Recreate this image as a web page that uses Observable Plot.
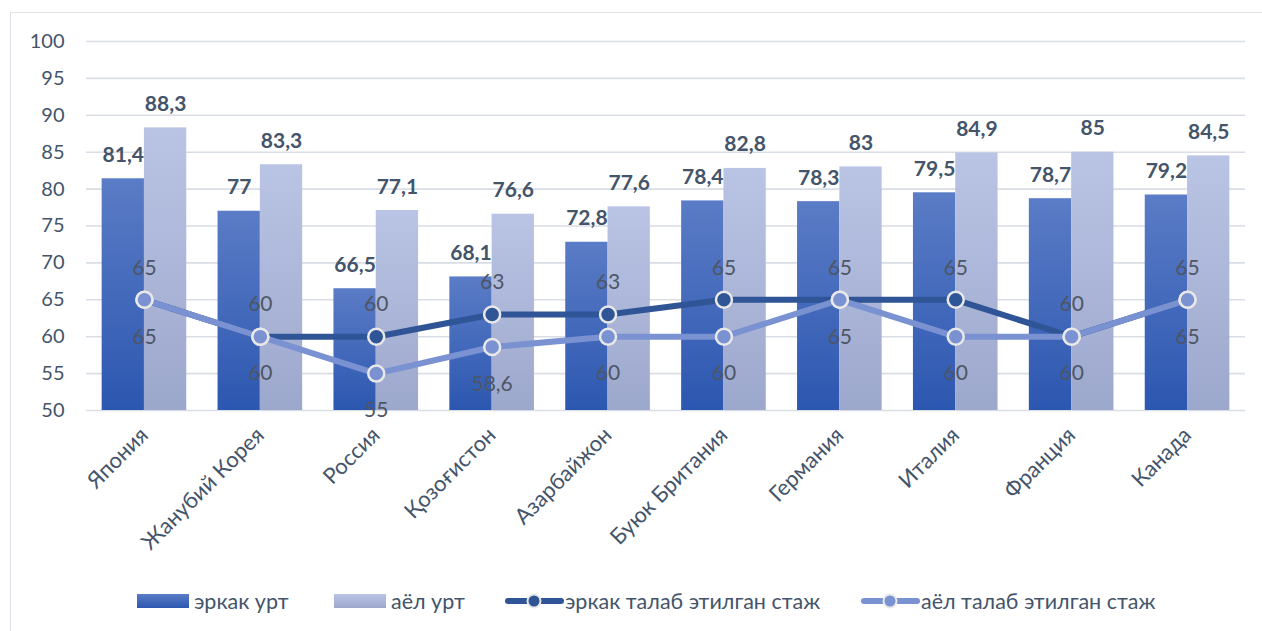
<!DOCTYPE html>
<html>
<head>
<meta charset="utf-8">
<script src="https://cdn.jsdelivr.net/npm/d3@7"></script>
<script src="https://cdn.jsdelivr.net/npm/@observablehq/plot@0.6"></script>
<style>
  html, body { margin: 0; padding: 0; background: #fff; width: 1262px; height: 631px; overflow: hidden; }
  #wrap { position: relative; width: 1262px; height: 631px; font-family: Lato, sans-serif; }
  #frame { position: absolute; left: 10px; top: 12px; width: 1270px; height: 640px; border: 1.5px solid #dde1e8; box-sizing: border-box; }
  #chart { position: absolute; left: 0; top: 0; }
  .leg { position: absolute; top: 589px; height: 24px; display: flex; align-items: center; font-size: 21.5px; color: #44546a; white-space: nowrap; }
  .sw { width: 52px; height: 14px; margin-right: 5px; }
</style>
</head>
<body>
<div id="wrap">
  <div id="frame"></div>
  <div id="chart"></div>
  <div id="legend"></div>
</div>
<script>
const countries = ["Япония", "Жанубий Корея", "Россия", "Қозоғистон", "Азарбайжон", "Буюк Британия", "Германия", "Италия", "Франция", "Канада"];
const maleLife = [81.4, 77, 66.5, 68.1, 72.8, 78.4, 78.3, 79.5, 78.7, 79.2];
const femaleLife = [88.3, 83.3, 77.1, 76.6, 77.6, 82.8, 83, 84.9, 85, 84.5];
const maleAge = [65, 60, 60, 63, 63, 65, 65, 65, 60, 65];
const femaleAge = [65, 60, 55, 58.6, 60, 60, 65, 60, 60, 65];
const yTicks = [50, 55, 60, 65, 70, 75, 80, 85, 90, 95, 100];
const yDomain = [50, 100];
const seriesNames = ["эркак урт", "аёл урт", "эркак талаб этилган стаж", "аёл талаб этилган стаж"];

const rows = countries.map((c, i) => ({
  country: c, male: maleLife[i], female: femaleLife[i], mAge: maleAge[i], fAge: femaleAge[i]
}));

const W = 1262, H = 575, mL = 86, mR = 17, mT = 41, mB = 165;
const padInner = 0.27;
const step = (W - mL - mR) / countries.length;
const bw = step * (1 - padInner);
const half = bw / 2;
const fmt = v => String(v).replace(".", ",");

const cMale = "#2f5597", cFemale = "#7a92d2", txt = "#44546a", lbl = "#4d5666";

const chart = Plot.plot({
  width: W, height: H,
  marginLeft: mL, marginRight: mR, marginTop: mT, marginBottom: mB,
  style: { fontFamily: "Lato, sans-serif", fontSize: "20px", color: txt, background: "transparent", overflow: "visible" },
  x: { domain: countries, paddingInner: padInner, paddingOuter: padInner / 2, round: false, label: null },
  y: { domain: yDomain, label: null },
  marks: [
    Plot.gridY(yTicks, { stroke: "#d9dde5", strokeOpacity: 1, strokeWidth: 1.6 }),
    Plot.axisY({ ticks: yTicks, tickSize: 0, tickPadding: 22, label: null, fontSize: 20 }),
    Plot.axisX({ tickSize: 0, tickRotate: -45, tickPadding: 21, label: null, fontSize: 22 }),
    Plot.barY(rows, { x: "country", y1: yDomain[0], y2: "male", fill: "url(#gDark)", insetRight: half }),
    Plot.barY(rows, { x: "country", y1: yDomain[0], y2: "female", fill: "url(#gLight)", insetLeft: half }),
    Plot.text(rows, { x: "country", y: "male", text: d => fmt(d.male), dx: -half / 2, dy: -17, lineAnchor: "bottom", fontWeight: "bold", fontSize: 21, fill: txt }),
    Plot.text(rows, { x: "country", y: "female", text: d => fmt(d.female), dx: half / 2, dy: -17, lineAnchor: "bottom", fontWeight: "bold", fontSize: 21, fill: txt }),
    Plot.line(rows, { x: "country", y: "mAge", stroke: cMale, strokeWidth: 6 }),
    Plot.line(rows, { x: "country", y: "fAge", stroke: cFemale, strokeWidth: 6 }),
    Plot.dot(rows, { x: "country", y: "mAge", r: 8, fill: cMale, stroke: "#e8e8e8", strokeWidth: 2.5 }),
    Plot.dot(rows, { x: "country", y: "fAge", r: 8, fill: cFemale, stroke: "#e8e8e8", strokeWidth: 2.5 }),
    Plot.text(rows, { x: "country", y: "mAge", text: d => fmt(d.mAge), dy: -32, fontSize: 21, fill: lbl }),
    Plot.text(rows, { x: "country", y: "fAge", text: d => fmt(d.fAge), dy: 37, fontSize: 21, fill: lbl })
  ]
});

const ns = "http://www.w3.org/2000/svg";
const defs = document.createElementNS(ns, "defs");
defs.innerHTML = `
  <linearGradient id="gDark" x1="0" y1="0" x2="0" y2="1">
    <stop offset="0" stop-color="#5b7cc6"/><stop offset="1" stop-color="#2c57b0"/>
  </linearGradient>
  <linearGradient id="gLight" x1="0" y1="0" x2="0" y2="1">
    <stop offset="0" stop-color="#bac5e5"/><stop offset="1" stop-color="#9ca7cc"/>
  </linearGradient>`;
chart.insertBefore(defs, chart.firstChild);
document.getElementById("chart").appendChild(chart);

// legend
const legend = document.getElementById("legend");
const items = [
  { left: 137, kind: "bar", grad: "linear-gradient(#5b7cc6, #2c57b0)" },
  { left: 334, kind: "bar", grad: "linear-gradient(#bac5e5, #9ca7cc)" },
  { left: 505, kind: "line", color: cMale },
  { left: 861, kind: "line", color: cFemale }
];
items.forEach((it, i) => {
  const d = document.createElement("div");
  d.className = "leg";
  d.style.left = it.left + "px";
  if (it.kind === "bar") {
    const s = document.createElement("div");
    s.className = "sw";
    s.style.background = it.grad;
    d.appendChild(s);
  } else {
    d.innerHTML = `<svg width="59" height="24" style="margin-right:1px"><line x1="3" y1="12" x2="56" y2="12" stroke="${it.color}" stroke-width="6" stroke-linecap="round"/><circle cx="29" cy="12" r="6.5" fill="${it.color}" stroke="#e8e8e8" stroke-width="2"/></svg>`;
  }
  const t = document.createElement("span");
  t.textContent = seriesNames[i];
  d.appendChild(t);
  legend.appendChild(d);
});
</script>
</body>
</html>
